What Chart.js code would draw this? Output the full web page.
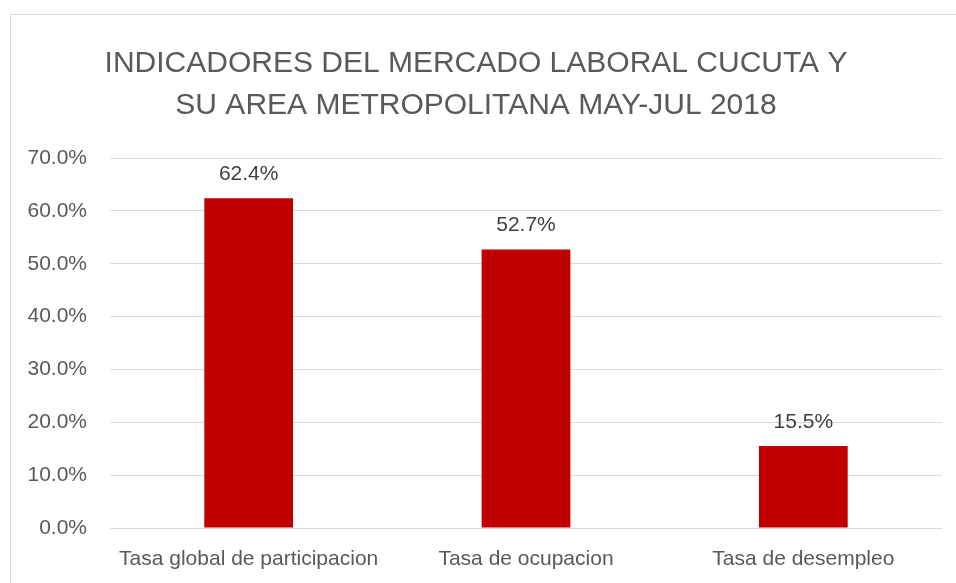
<!DOCTYPE html>
<html><head><meta charset="utf-8">
<script src="https://cdn.jsdelivr.net/npm/chart.js@4"></script>
<style>html,body{margin:0;padding:0;background:#fff}#wrap{width:956px;height:583px}</style>
</head><body><div id="wrap"><canvas id="c" width="956" height="583"></canvas></div>
<script>
const categories = ["Tasa global de participacion", "Tasa de ocupacion", "Tasa de desempleo"];
const values = [62.4, 52.7, 15.5];
const titleLines = ["INDICADORES DEL MERCADO LABORAL CUCUTA Y", "SU AREA METROPOLITANA MAY-JUL 2018"];
const yMin = 0, yMax = 70, yStep = 10;

const FONT = "'Liberation Sans', Arial, sans-serif";
const GRAY = '#595959';

const frame = {
  id: 'frame',
  beforeDraw(chart) {
    const ctx = chart.ctx;
    ctx.save();
    ctx.fillStyle = '#fff';
    ctx.fillRect(0, 0, chart.width, chart.height);
    ctx.strokeStyle = '#d9d9d9';
    ctx.lineWidth = 1;
    ctx.beginPath();
    ctx.moveTo(10.5, chart.height + 2);
    ctx.lineTo(10.5, 14.5);
    ctx.lineTo(chart.width + 2, 14.5);
    ctx.stroke();
    ctx.restore();
  }
};
const labels = {
  id: 'labels',
  afterDatasetsDraw(chart) {
    const ctx = chart.ctx;
    const meta = chart.getDatasetMeta(0);
    ctx.save();
    ctx.font = '21px ' + FONT;
    ctx.fillStyle = '#404040';
    ctx.textAlign = 'center';
    ctx.textBaseline = 'middle';
    meta.data.forEach((bar, i) => {
      ctx.fillText(values[i].toFixed(1) + '%', bar.x, bar.y - 24);
    });
    ctx.restore();
  }
};

new Chart(document.getElementById('c'), {
  type: 'bar',
  data: {
    labels: categories,
    datasets: [{
      data: values,
      backgroundColor: '#C00000',
      borderWidth: 0,
      categoryPercentage: 1,
      barPercentage: 0.32
    }]
  },
  options: {
    responsive: false,
    animation: false,
    devicePixelRatio: 1,
    layout: { padding: { left: 10, right: 14, top: 0, bottom: 8 } },
    plugins: {
      legend: { display: false },
      tooltip: { enabled: false },
      title: {
        display: true,
        text: titleLines,
        color: GRAY,
        font: { family: FONT, size: 30, weight: 'normal', lineHeight: '42px' },
        padding: { top: 43, bottom: 31 }
      }
    },
    scales: {
      x: {
        grid: { display: false, drawTicks: false },
        border: { display: false },
        ticks: { color: GRAY, font: { family: FONT, size: 21 }, padding: 19 },
        afterFit(s) { s.height = 47; }
      },
      y: {
        min: yMin, max: yMax,
        ticks: {
          stepSize: yStep, color: GRAY, padding: 23,
          font: { family: FONT, size: 21 },
          callback: v => v.toFixed(1) + '%'
        },
        grid: { color: '#d9d9d9', lineWidth: 1, drawTicks: false },
        border: { display: false },
        afterFit(s) { s.width = 100; }
      }
    }
  },
  plugins: [frame, labels]
});
</script></body></html>
